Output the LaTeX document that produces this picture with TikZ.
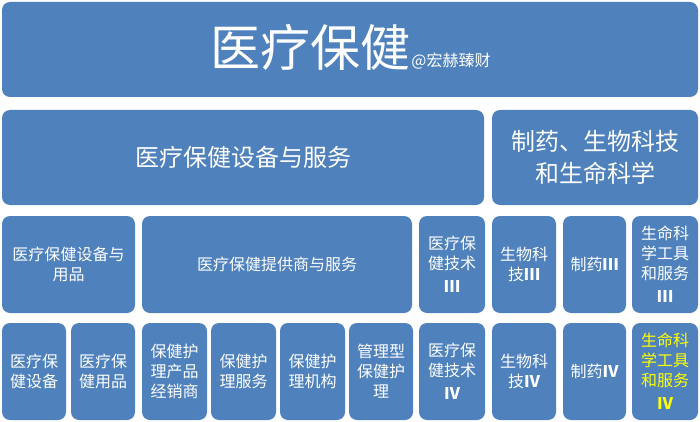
\documentclass[tikz,border=0pt]{standalone}
\usepackage{fontspec}
\setmainfont{Noto Sans CJK SC}
\usepackage{xcolor}
\usetikzlibrary{positioning}

\definecolor{boxblue}{HTML}{4F81BD}
\definecolor{hiyellow}{HTML}{FFFF00}

\tikzset{
    box/.style={rectangle, rounded corners=8pt, fill=boxblue, text=white,
        align=center, inner sep=0pt, font=\fontsize{16}{20}\selectfont},
    bigbox/.style={box, font=\fontsize{24}{32}\selectfont},
}

\begin{document}
\begin{tikzpicture}[x=1pt,y=-1pt]
    \useasboundingbox (0,0) rectangle (700,422);
    % banner
    \node[box, minimum width=696pt, minimum height=95pt] (top) at (350,49.5) {};
    \node[text=white, inner sep=0pt, anchor=base, font=\fontsize{50}{50}\selectfont] (title) at (310,67) {医疗保健};
    \node[text=white, inner sep=0pt, anchor=base west, font=\fontsize{16}{16}\selectfont] (sign) at ([xshift=1pt]title.base east) {@宏赫臻财};
    % sectors
    \node[bigbox, minimum width=482pt, minimum height=95pt] (equip) at (243,157.5) {医疗保健设备与服务};
    \node[bigbox, minimum width=206pt, minimum height=95pt] (pharma) at (595,157.5) {制药、生物科技\\和生命科学};
    % industry groups
    \foreach \xa/\xb/\nm/\txt in {2/135/eqsup/{医疗保健设备与\\用品},
        142/412/prov/{医疗保健提供商与服务},
        419/485/techA/{医疗保\\健技术\\[3pt]{\bfseries Ⅲ}},
        492/556/bioA/{生物科\\技{\bfseries Ⅲ}},
        563/626/drugA/{制药{\bfseries Ⅲ}},
        632/698/lifeA/{生命科\\学工具\\和服务\\[3pt]{\bfseries Ⅲ}}}{
        \node[box, minimum width={(\xb-\xa)*1pt}, minimum height=97pt] (\nm) at ({(\xa+\xb)/2},264.5) {\txt};
    }
    % sub-industries
    \foreach \xa/\xb/\nm/\txt in {2/66/devc/{医疗保\\健设备},
        71/135/supl/{医疗保\\健用品},
        142/207/dist/{保健护\\理产品\\经销商},
        211/276/serv/{保健护\\理服务},
        280/345/inst/{保健护\\理机构},
        349/413/mngd/{管理型\\保健护\\理},
        419/485/techB/{医疗保\\健技术\\[3pt]{\bfseries Ⅳ}},
        492/556/bioB/{生物科\\技{\bfseries Ⅳ}},
        563/626/drugB/{制药{\bfseries Ⅳ}}}{
        \node[box, minimum width={(\xb-\xa)*1pt}, minimum height=97pt] (\nm) at ({(\xa+\xb)/2},371.5) {\txt};
    }
    \node[box, text=hiyellow, minimum width=66pt, minimum height=97pt] (lifeB) at (665,371.5) {生命科\\学工具\\和服务\\[3pt]{\bfseries Ⅳ}};
\end{tikzpicture}
\end{document}
